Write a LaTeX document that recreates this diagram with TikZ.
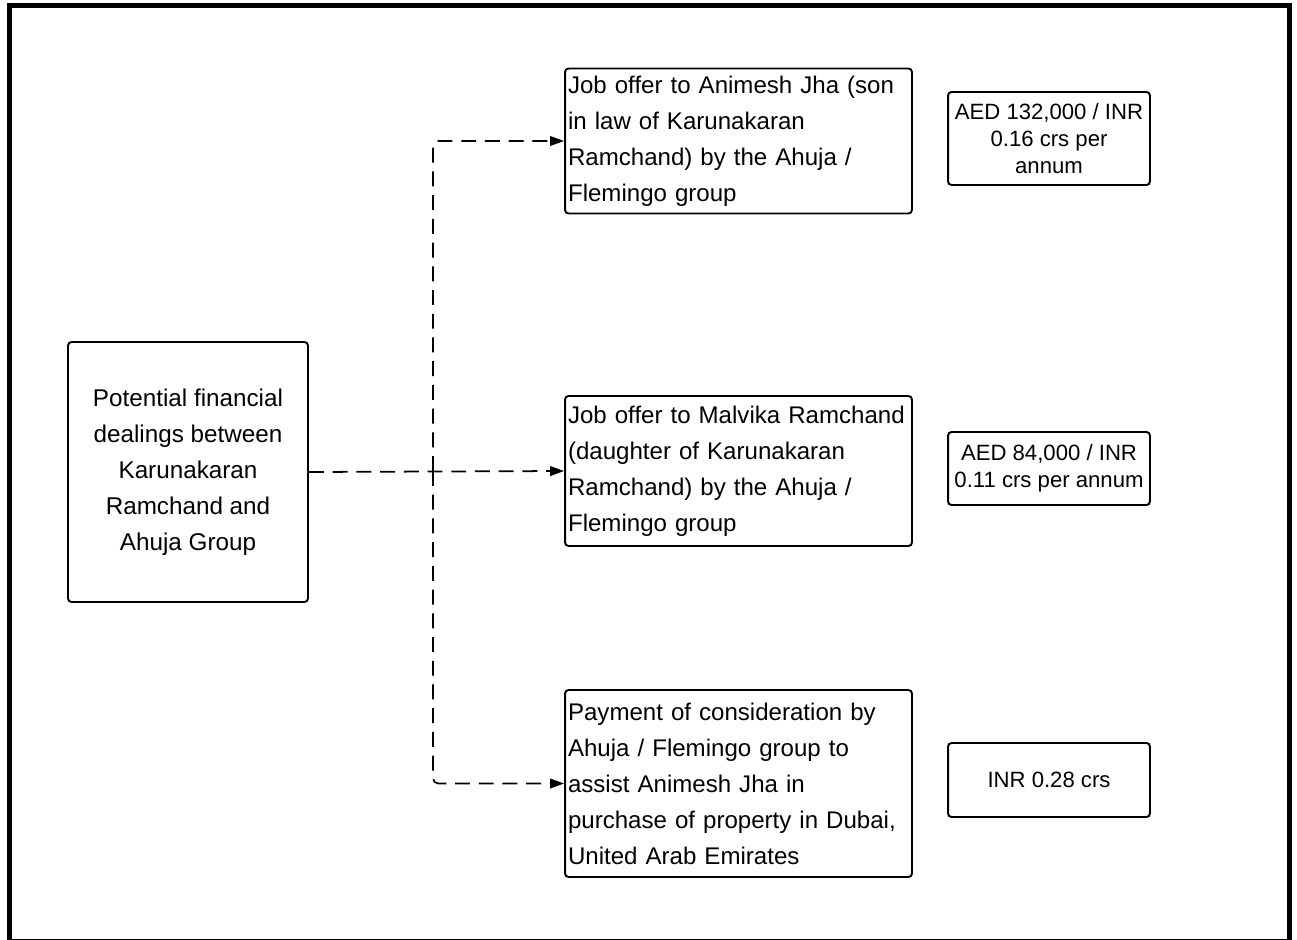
\documentclass[tikz,border=0pt]{standalone}
\usepackage{fontspec}
\setmainfont{Liberation Sans}
\usetikzlibrary{arrows.meta}

\begin{document}
\begin{tikzpicture}[x=0.02cm, y=-0.02cm, >={Triangle[length=8pt,width=5.5pt]},
    box/.style={draw, rounded corners=2pt, line width=1.1pt, inner sep=0pt},
    dealbox/.style={box, align=left, inner xsep=0.06cm, text width=6.82cm,
        font=\fontsize{13.7}{20.5}\selectfont},
    valbox/.style={box, align=center, minimum width=4.04cm,
        font=\fontsize{12.6}{15.4}\selectfont},
    link/.style={->, line width=1pt, dash pattern=on 8.5pt off 5pt, rounded corners=3pt}]
    \useasboundingbox (0,0) rectangle (1297,939);
    % frame
    \draw[line width=2.8pt] (9.5,5.5) rectangle (1289.5,941);

    % source
    \node[box, align=center, minimum width=4.8cm, minimum height=5.2cm,
        font=\fontsize{13.8}{20.5}\selectfont] (dealings) at (188,472)
        {Potential financial\\dealings between\\Karunakaran\\Ramchand and\\Ahuja Group};

    % dealings
    \node[dealbox, minimum height=2.9cm] (jobson) at (738.5,141)
        {Job offer to Animesh Jha (son\\in law of Karunakaran\\Ramchand) by the Ahuja /\\Flemingo group};
    \node[dealbox, minimum height=3.0cm] (jobdaughter) at (738.5,471)
        {Job offer to Malvika Ramchand\\(daughter of Karunakaran\\Ramchand) by the Ahuja /\\Flemingo group};
    \node[dealbox, minimum height=3.74cm] (payment) at (738.5,783.5)
        {Payment of consideration by\\Ahuja / Flemingo group to\\assist Animesh Jha in\\purchase of property in Dubai,\\United Arab Emirates};

    % values
    \node[valbox, minimum height=1.86cm] (valson) at (1049,138.5)
        {AED 132,000 / INR\\0.16 crs per\\annum};
    \node[valbox, minimum height=1.46cm] (valdaughter) at (1049,468.5)
        {AED 84,000 / INR\\0.11 crs per annum};
    \node[valbox, minimum height=1.48cm] (valpay) at (1049,780)
        {INR 0.28 crs};

    % links
    \coordinate (split) at (433,471);
    \draw[link] (dealings.east) -- (jobdaughter.west);
    \draw[link] (split) |- (jobson.west);
    \draw[link] (split) |- (payment.west);
\end{tikzpicture}
\end{document}
